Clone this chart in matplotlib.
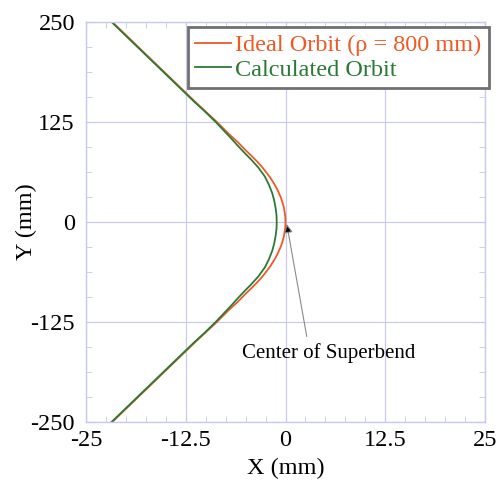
import numpy as np
import matplotlib
matplotlib.use("Agg")
import matplotlib.pyplot as plt

plt.rcParams['font.family'] = ['Liberation Serif', 'DejaVu Serif']
plt.rcParams['axes.unicode_minus'] = False

# ideal orbit (rho = 800 mm)
ideal_y = [250, 200, 150, 125, 110, 100, 90, 83, 77, 70, 65, 56, 48, 40, 30, 25, 18, 12, 6, 0,
           -6, -12, -18, -25, -30, -40, -48, -56, -65, -70, -77, -83, -90, -100, -110, -125, -150, -200, -250]
ideal_x = [-21.7, -16.5, -11.3, -8.6, -7.1, -6.0, -5.03, -4.3, -3.7, -3.05, -2.64, -1.95, -1.44, -1.0, -0.56, -0.4, -0.2, -0.1, -0.02, 0.0,
           -0.02, -0.1, -0.2, -0.4, -0.56, -1.0, -1.44, -1.95, -2.64, -3.05, -3.7, -4.3, -5.03, -6.0, -7.1, -8.6, -11.3, -16.5, -21.7]

# calculated orbit
calc_y = [250, 200, 150, 140, 125, 115, 105, 95, 85, 78, 68, 57, 47, 36, 27, 18, 9, 0,
          -9, -18, -27, -36, -47, -57, -68, -78, -85, -95, -105, -115, -125, -140, -150, -200, -250]
calc_x = [-21.8, -16.6, -11.4, -10.3, -8.75, -7.8, -6.85, -5.95, -5.0, -4.3, -3.4, -2.6, -2.1, -1.66, -1.42, -1.25, -1.13, -1.1,
          -1.13, -1.25, -1.42, -1.66, -2.1, -2.6, -3.4, -4.3, -5.0, -5.95, -6.85, -7.8, -8.75, -10.3, -11.4, -16.6, -21.8]

x_ticks = [-25, -12.5, 0, 12.5, 25]
x_labels = ['-25', '-12.5', '0', '12.5', '25']
y_ticks = [-250, -125, 0, 125, 250]

red = '#ee5a24'
green = '#2a7a36'
grid_c = '#c8c8f4'
fs = 17.5

fig = plt.figure(figsize=(5.0, 4.83), dpi=100)
ax = fig.add_axes([0.172, 0.1263, 0.798, 0.8282])

ax.plot(ideal_x, ideal_y, color=red, lw=1.3, label='Ideal Orbit (\u03c1 = 800 mm)')
ax.plot(calc_x, calc_y, color=green, lw=1.3, label='Calculated Orbit')

ax.set_xlim(-25, 25)
ax.set_ylim(-250, 250)
ax.set_xticks(x_ticks)
ax.set_xticklabels(x_labels)
ax.set_yticks(y_ticks)
ax.set_xticks(np.arange(-25, 25.1, 2.5), minor=True)
ax.set_yticks(np.arange(-250, 250.1, 31.25), minor=True)
ax.grid(True, which='major', color=grid_c, lw=0.8)
ax.tick_params(which='both', direction='in', top=True, right=True, color=grid_c,
               labelsize=fs)
ax.tick_params(axis='y', pad=8)
ax.tick_params(axis='x', pad=6)
ax.tick_params(which='major', length=6)
ax.tick_params(which='minor', length=4)
for s in ax.spines.values():
    s.set_color(grid_c)
    s.set_linewidth(1.0)

ax.set_xlabel('X (mm)', fontsize=fs, labelpad=5)
ax.set_ylabel('Y (mm)', fontsize=fs, labelpad=-5)

# arrow to the centre of the superbend, then its caption
ax.annotate('', xy=(0.16, -2.5), xytext=(2.66, -143),
            arrowprops=dict(arrowstyle='-|>', ec='#8a8a8a', fc='black', lw=0.8,
                            mutation_scale=13, shrinkA=0, shrinkB=0))
ax.text(5.4, -164, 'Center of Superbend', fontsize=15, ha='center', va='center')

leg = ax.legend(loc='upper right', bbox_to_anchor=(1.01, 0.9875), fontsize=fs,
                fancybox=False, framealpha=1, edgecolor='#707070',
                handlelength=1.45, handletextpad=0.2, borderpad=0.3,
                labelspacing=0.1, borderaxespad=0)
leg.get_frame().set_linewidth(2)
for t, c in zip(leg.get_texts(), [red, green]):
    t.set_color(c)

fig.savefig('out.png', dpi=100)
